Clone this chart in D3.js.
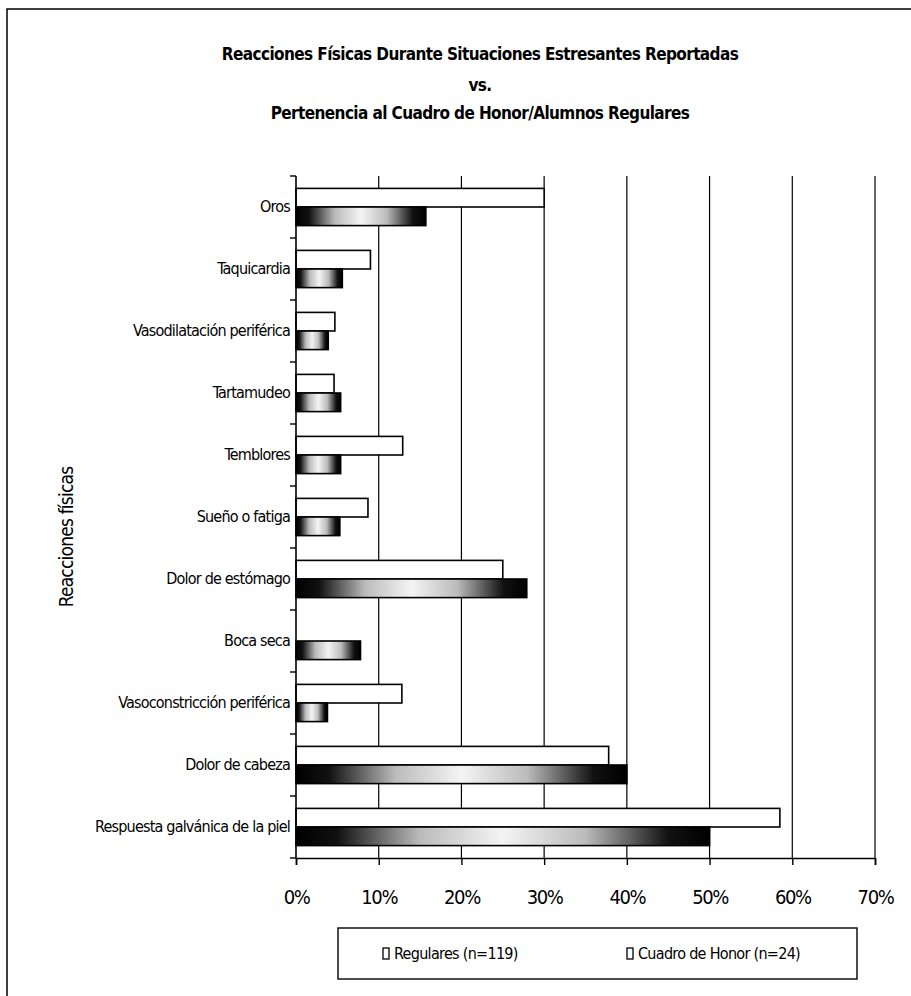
<!DOCTYPE html>
<html>
<head>
<meta charset="utf-8">
<script src="https://cdn.jsdelivr.net/npm/d3@7"></script>
<style>
    html, body {margin: 0; padding: 0; background: #fff;}
    svg text {font-family: "Liberation Sans Narrow", "Arial Narrow", "DejaVu Sans Condensed", sans-serif; fill: #000;}
</style>
</head>
<body>
<div id="chart"></div>
<script>
// init data
const categories = [
    "Oros",
    "Taquicardia",
    "Vasodilatación periférica",
    "Tartamudeo",
    "Temblores",
    "Sueño o fatiga",
    "Dolor de estómago",
    "Boca seca",
    "Vasoconstricción periférica",
    "Dolor de cabeza",
    "Respuesta galvánica de la piel"
];
const regulares = [30.0, 9.0, 4.7, 4.6, 12.9, 8.7, 25.0, 0, 12.8, 37.8, 58.5];
const cuadroHonor = [15.7, 5.6, 3.9, 5.4, 5.4, 5.3, 27.9, 7.8, 3.8, 40.0, 50.0];
const seriesNames = ["Regulares (n=119)", "Cuadro de Honor (n=24)"];
const xTicks = [0, 10, 20, 30, 40, 50, 60, 70];
const titleLines = [
    "Reacciones Físicas Durante Situaciones Estresantes Reportadas",
    "vs.",
    "Pertenencia al Cuadro de Honor/Alumnos Regulares"
];
const yTitle = "Reacciones físicas";

// layout
const width = 911, height = 996;
const plot = {left: 296, right: 875, top: 176, bottom: 858};

const svg = d3.select('#chart').append('svg')
    .attr('width', width)
    .attr('height', height)
    .attr('viewBox', `0 0 ${width} ${height}`);

// gradient for the honor bars (dark edges, light middle)
const grad = svg.append('defs').append('linearGradient')
    .attr('id', 'honorFill')
    .attr('x1', '0').attr('x2', '1').attr('y1', '0').attr('y2', '0');
[[0, '#000'], [0.1, '#111'], [0.3, '#bbb'], [0.5, '#f4f4f4'], [0.7, '#bbb'], [0.9, '#111'], [1, '#000']]
    .forEach(([o, c]) => grad.append('stop').attr('offset', o).attr('stop-color', c));

// outer frame (only top & left visible in the scan)
svg.append('path')
    .attr('d', `M7,${height + 5} V9 H${width + 5}`)
    .attr('fill', 'none')
    .attr('stroke', '#000')
    .attr('stroke-width', 1.5);

// title
const titleY = [55, 86, 114];
svg.append('g').selectAll('text')
    .data(titleLines)
    .join('text')
    .attr('x', 480)
    .attr('y', (d, i) => titleY[i])
    .attr('text-anchor', 'middle')
    .attr('dominant-baseline', 'middle')
    .attr('font-size', 17)
    .attr('font-weight', 'bold')
    .attr('letter-spacing', -0.6)
    .text(d => d);

// scales
const x = d3.scaleLinear().domain([0, 70]).range([plot.left, plot.right]);
const y = d3.scaleBand().domain(categories).range([plot.top, plot.bottom]).paddingInner(0.4).paddingOuter(0.2);
const ySub = d3.scaleBand().domain([0, 1]).range([0, y.bandwidth()]);

// grid
svg.append('g').selectAll('line')
    .data(xTicks.slice(1))
    .join('line')
    .attr('x1', d => x(d)).attr('x2', d => x(d))
    .attr('y1', plot.top).attr('y2', plot.bottom)
    .attr('stroke', '#000')
    .attr('stroke-width', 1.2);

// bars
const rows = categories.map((c, i) => ({cat: c, vals: [regulares[i], cuadroHonor[i]]}));
const group = svg.append('g').selectAll('g')
    .data(rows)
    .join('g')
    .attr('transform', d => `translate(0,${y(d.cat)})`);
group.selectAll('rect')
    .data(d => d.vals.map((v, s) => ({v, s})).filter(e => e.v > 0))
    .join('rect')
    .attr('x', x(0))
    .attr('y', d => ySub(d.s))
    .attr('width', d => x(d.v) - x(0))
    .attr('height', ySub.bandwidth())
    .attr('fill', d => d.s === 0 ? '#fff' : 'url(#honorFill)')
    .attr('stroke', '#000')
    .attr('stroke-width', 1.6);

// axes
const xAxis = svg.append('g')
    .attr('transform', `translate(0,${plot.bottom})`)
    .call(d3.axisBottom(x).tickValues(xTicks).tickSize(7).tickFormat(d => d + '%'));
xAxis.select('.domain').attr('stroke-width', 1.6);
xAxis.selectAll('.tick line').attr('stroke-width', 1.4);
xAxis.selectAll('text')
    .attr('font-size', 20)
    .attr('letter-spacing', -1.4)
    .attr('dy', 0)
    .attr('y', 46);

// y axis: ticks at category boundaries
const yAxis = svg.append('g');
yAxis.append('line')
    .attr('x1', plot.left).attr('x2', plot.left)
    .attr('y1', plot.top).attr('y2', plot.bottom)
    .attr('stroke', '#000').attr('stroke-width', 1.6);
const step = y.step();
yAxis.selectAll('line.tk')
    .data(d3.range(categories.length + 1))
    .join('line')
    .attr('class', 'tk')
    .attr('x1', plot.left - 6).attr('x2', plot.left)
    .attr('y1', i => plot.top + i * step)
    .attr('y2', i => plot.top + i * step)
    .attr('stroke', '#000').attr('stroke-width', 1.4);
yAxis.selectAll('text')
    .data(categories)
    .join('text')
    .attr('x', plot.left - 6)
    .attr('y', d => y(d) + y.bandwidth() / 2)
    .attr('text-anchor', 'end')
    .attr('dominant-baseline', 'middle')
    .attr('font-size', 16)
    .attr('letter-spacing', -0.8)
    .text(d => d);

// y title
svg.append('text')
    .attr('transform', 'translate(67,537) rotate(-90)')
    .attr('text-anchor', 'middle')
    .attr('dominant-baseline', 'middle')
    .attr('font-size', 19)
    .attr('letter-spacing', -0.8)
    .text(yTitle);

// legend
const legend = svg.append('g');
legend.append('rect')
    .attr('x', 338).attr('y', 928)
    .attr('width', 519).attr('height', 51)
    .attr('fill', '#fff')
    .attr('stroke', '#000')
    .attr('stroke-width', 1.4);
const legendX = [383, 627];
const item = legend.selectAll('g')
    .data(seriesNames)
    .join('g')
    .attr('transform', (d, i) => `translate(${legendX[i]},954)`);
item.append('rect')
    .attr('x', 0).attr('y', -6)
    .attr('width', 6).attr('height', 11)
    .attr('fill', '#fff')
    .attr('stroke', '#000')
    .attr('stroke-width', 1.3);
item.append('text')
    .attr('x', 11)
    .attr('y', 0)
    .attr('dominant-baseline', 'middle')
    .attr('font-size', 16)
    .attr('letter-spacing', -0.7)
    .text(d => d);
</script>
</body>
</html>
